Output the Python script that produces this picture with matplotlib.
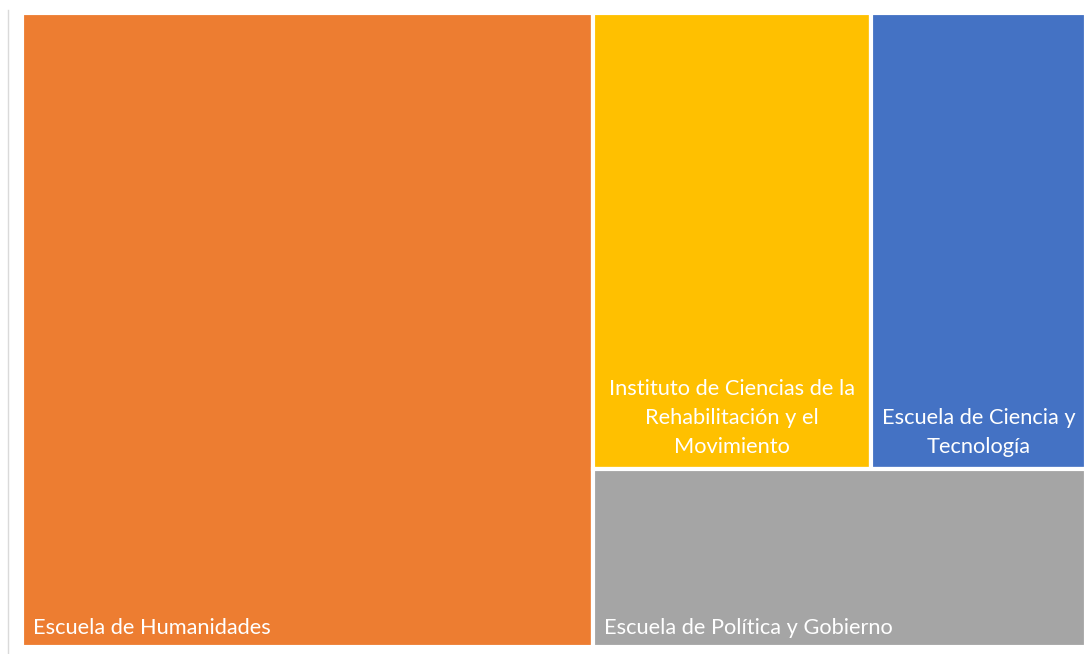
import matplotlib
matplotlib.use("Agg")
import matplotlib.pyplot as plt
from matplotlib.patches import Rectangle

labels = ["Escuela de Humanidades",
          "Instituto de Ciencias de la\nRehabilitación y el\nMovimiento",
          "Escuela de Ciencia y\nTecnología",
          "Escuela de Política y Gobierno"]
values = [37, 13, 10, 9]
colors = ["#ED7D31", "#FFC000", "#4472C4", "#A5A5A5"]

W, H = 1090, 654
fig = plt.figure(figsize=(W / 100, H / 100), dpi=100)
fig.patch.set_facecolor("white")

# treemap area in pixels
x0, x1, y0, y1 = 22, 1086, 13, 647
ax = fig.add_axes([x0 / W, 1 - y1 / H, (x1 - x0) / W, (y1 - y0) / H])
ax.set_xlim(0, 1)
ax.set_ylim(0, 1)
ax.axis("off")

total = sum(values)
# layout: first item full-height column, others in right block
w0 = values[0] / total
rest = total - values[0]
top = values[1] + values[2]
h_top = top / rest
w1 = values[1] / top

rects = [
    (0, 0, w0, 1),
    (w0, 1 - h_top, (1 - w0) * w1, h_top),
    (w0 + (1 - w0) * w1, 1 - h_top, (1 - w0) * (1 - w1), h_top),
    (w0, 0, 1 - w0, 1 - h_top),
]

for (rx, ry, rw, rh), c in zip(rects, colors):
    ax.add_patch(Rectangle((rx, ry), rw, rh, facecolor=c, edgecolor="white",
                           linewidth=3.0))

fs = 15.7
fam = ["Lato", "DejaVu Sans"]
padx = 11 / (x1 - x0)
pady = 13 / (y1 - y0)
# orange label: bottom-left
rx, ry, rw, rh = rects[0]
ax.text(rx + padx, ry + pady, labels[0], color="white", fontsize=fs, family=fam,
        ha="left", va="baseline")
# gray label: bottom-left
rx, ry, rw, rh = rects[3]
ax.text(rx + padx, ry + pady, labels[3], color="white", fontsize=fs, family=fam,
        ha="left", va="baseline")
# yellow and blue: centered, bottom aligned
for i in (1, 2):
    rx, ry, rw, rh = rects[i]
    ax.text(rx + rw / 2, ry + 12 / (y1 - y0), labels[i], color="white", fontsize=fs,
            family=fam, ha="center", va="bottom", multialignment="center",
            linespacing=1.55)

# thin left border line
fig.add_artist(plt.Line2D([8 / W, 8 / W], [0, 1 - 10 / H], color="#DADADA",
                          linewidth=1.0, transform=fig.transFigure))

fig.savefig("out.png", dpi=100, facecolor="white")
